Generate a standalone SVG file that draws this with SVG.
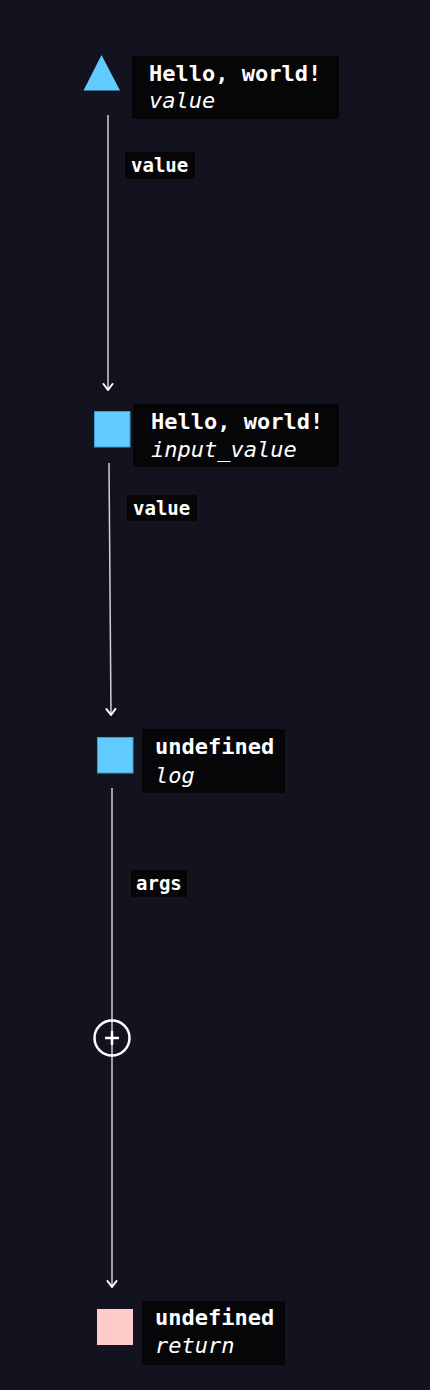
<svg xmlns="http://www.w3.org/2000/svg" width="430" height="1390" viewBox="0 0 430 1390">
<defs>
<style>
.bg{fill:#13131f}
.box{fill:#060609}
.t{font-family:"DejaVu Sans Mono","Liberation Mono",monospace;font-size:22px;fill:#ffffff}
.b{font-weight:bold}
.i{font-style:italic}
.el{font-family:"DejaVu Sans Mono","Liberation Mono",monospace;font-size:19px;font-weight:bold;fill:#ffffff}
.edge{stroke:#d0d0d8;stroke-width:1.5;fill:none}
.blue{fill:#62cbff;stroke:#3a9fd0;stroke-width:1}
.pink{fill:#ffcccb}
</style>
<marker id="arr" viewBox="0 0 12 12" refX="11" refY="6" markerWidth="12" markerHeight="12" markerUnits="userSpaceOnUse" orient="auto">
<path d="M5 1.5 L11 6 L5 10.5" fill="none" stroke="#ffffff" stroke-width="2" stroke-linecap="round" stroke-linejoin="round"/>
</marker>
</defs>
<rect class="bg" x="0" y="0" width="430" height="1390"/>
<g id="connectors">
<path class="edge" d="M108 115 L108 390" marker-end="url(#arr)"/>
<rect class="box" x="125" y="152" width="70" height="27"/>
<text class="el" x="131" y="172">value</text>
<path class="edge" d="M109 463 L111 715" marker-end="url(#arr)"/>
<rect class="box" x="127" y="495" width="70" height="26"/>
<text class="el" x="133" y="515">value</text>
<path class="edge" d="M112 788 L112 1287" marker-end="url(#arr)"/>
<rect class="box" x="131" y="870" width="56" height="27"/>
<text class="el" x="136" y="890">args</text>
</g>
<g id="node-plus">
<circle cx="112" cy="1038" r="17.5" fill="none" stroke="#ffffff" stroke-width="2.5"/>
<path d="M105 1038 H119 M112 1031 V1045" stroke="#ffffff" stroke-width="2.5"/>
</g>
<g id="node1">
<polygon points="101.5,55 120,90.5 83.5,90.5" fill="#62cbff"/>
<rect class="box" x="132" y="56" width="207" height="63"/>
<text class="t b" x="149" y="81">Hello, world!</text>
<text class="t i" x="149" y="108">value</text>
</g>
<g id="node2">
<rect class="blue" x="94.5" y="411.5" width="35.5" height="35.5"/>
<rect class="box" x="133" y="404" width="206" height="63"/>
<text class="t b" x="151" y="429">Hello, world!</text>
<text class="t i" x="151" y="457">input_value</text>
</g>
<g id="node3">
<rect class="blue" x="97.5" y="737.5" width="35.5" height="35.5"/>
<rect class="box" x="142" y="729" width="143" height="64"/>
<text class="t b" x="155" y="754">undefined</text>
<text class="t i" x="155" y="783">log</text>
</g>
<g id="node4">
<rect class="pink" x="97" y="1309" width="36" height="36"/>
<rect class="box" x="142" y="1301" width="143" height="64"/>
<text class="t b" x="155" y="1325">undefined</text>
<text class="t i" x="155" y="1353">return</text>
</g>
</svg>
